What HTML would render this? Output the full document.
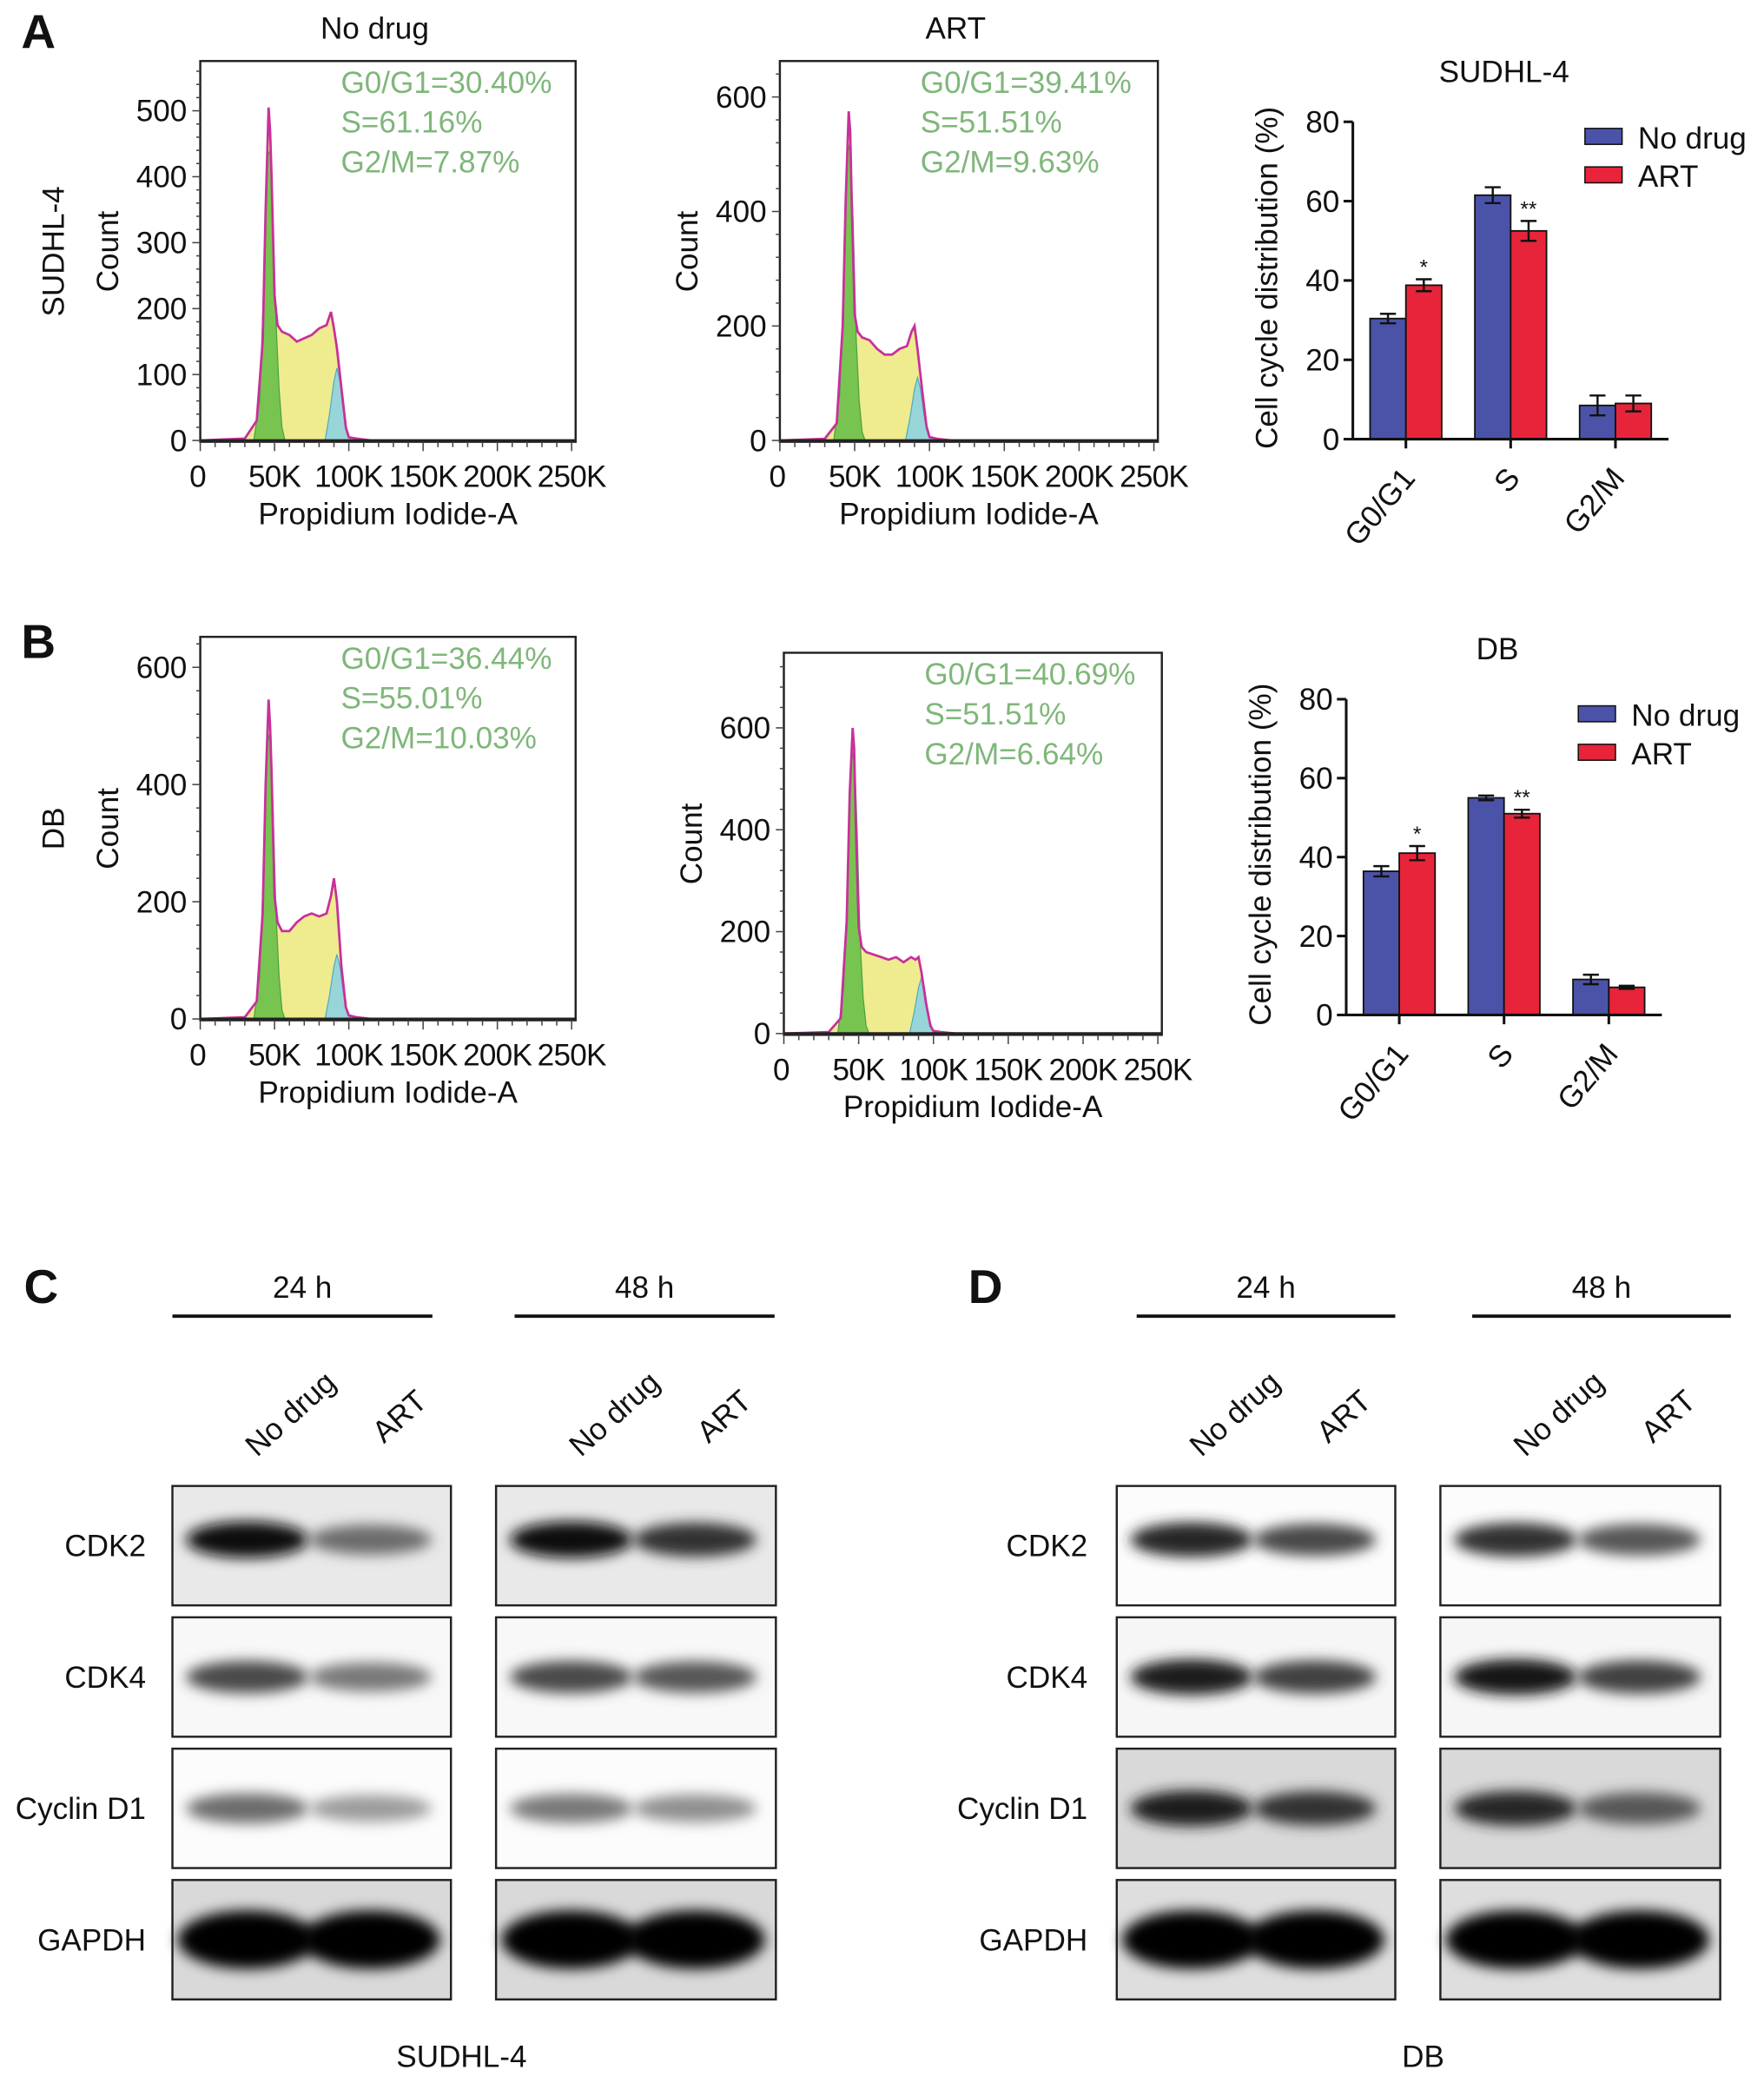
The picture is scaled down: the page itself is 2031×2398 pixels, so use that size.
<!DOCTYPE html>
<html><head><meta charset="utf-8">
<style>
html,body{margin:0;padding:0;background:#fff;}
svg{display:block;font-family:"Liberation Sans",Arial,sans-serif;}
</style></head>
<body>
<svg id="fig" width="2031" height="2398" viewBox="0 0 1330 1570" preserveAspectRatio="none" xmlns="http://www.w3.org/2000/svg">
<defs>
<filter id="blur" x="-30%" y="-80%" width="160%" height="260%"><feGaussianBlur stdDeviation="5"/></filter>
</defs>
</svg>
<script>
// ---------- data ----------
const histX_A1 = [0,30,38,42,44,46,47,48,50,52,55,60,65,70,75,80,85,88,90,92,95,98,100,105,115,250];
const histY_A1 = [0,3,30,150,350,505,470,400,220,175,165,160,150,155,160,170,175,195,170,140,80,20,5,3,0,0];
const histX_A2 = [0,30,38,42,44,46,47,48,50,52,55,60,65,70,75,80,85,88,90,92,95,98,100,105,115,250];
const histY_A2 = [0,3,30,200,420,575,540,420,220,190,180,175,160,150,150,160,165,190,200,160,90,25,6,3,0,0];
const histX_B1 = [0,30,38,42,44,46,47,48,50,52,55,60,65,70,75,80,85,88,90,92,95,98,100,105,115,250];
const histY_B1 = [0,3,30,180,400,545,500,420,210,165,150,150,165,175,180,175,180,210,240,200,90,20,6,3,0,0];
const histX_B2 = [0,30,38,42,44,46,47,48,50,52,55,60,65,70,75,80,85,88,90,92,95,98,100,105,115,250];
const histY_B2 = [0,3,30,220,470,600,560,420,210,170,160,155,150,145,150,140,150,145,150,120,60,15,5,3,0,0];
const g1X = [36,40,43,45,47,49,51,53,55,57];
const g1Y_A1 = [0,60,250,430,440,330,180,80,20,0];
const g1Y_A2 = [0,80,300,500,520,380,180,70,15,0];
const g1Y_B1 = [0,70,290,470,490,360,180,75,15,0];
const g1Y_B2 = [0,90,330,530,560,400,180,70,15,0];
const g2X = [84,87,90,92,94,96,98,100,102];
const g2Y = [0,40,90,110,90,50,20,5,0];

const barCats = ["G0/G1","S","G2/M"];
const barNoDrugA = [30.4,61.5,8.5];
const barArtA = [38.8,52.5,9.0];
const errNoDrugA = [1.2,2.0,2.5];
const errArtA = [1.5,2.5,2.0];
const sigA = ["","*","**",""];
const barNoDrugB = [36.4,55.0,9.0];
const barArtB = [41.0,51.0,7.0];
const errNoDrugB = [1.3,0.6,1.2];
const errArtB = [1.8,1.0,0.4];
const barTicks = [0,20,40,60,80];

const blotRows = ["CDK2","CDK4","Cyclin D1","GAPDH"];
const bandC24 = [[0.95,0.55],[0.7,0.5],[0.55,0.35],[1,1]];
const bandC48 = [[0.95,0.8],[0.7,0.65],[0.5,0.4],[1,1]];
const bandD24 = [[0.85,0.7],[0.9,0.75],[0.9,0.8],[1,1]];
const bandD48 = [[0.8,0.65],[0.92,0.75],[0.85,0.65],[1,1]];
const bgC = [0.2,0.06,0.03,0.35];
const bgD = [0.03,0.08,0.35,0.3];

// ---------- helpers ----------
const svg = document.getElementById('fig');
const NS = 'http://www.w3.org/2000/svg';
function el(tag, attrs, parent){
  const e = document.createElementNS(NS, tag);
  for (const k in attrs) e.setAttribute(k, attrs[k]);
  (parent||svg).appendChild(e);
  return e;
}
function txt(s, x, y, size, opts, parent){
  const t = el('text', Object.assign({x:x,y:y,'font-size':size,fill:'#111'}, opts||{}), parent);
  t.textContent = s;
  return t;
}

// ---------- histograms ----------
function histogram(name, box, yPerCount, yTicks, xs, ys, g1y, lines, title, rowLabel){
  const g = el('g', {});
  
  
  const [x0,y0,x1,y1] = box;
  const yb = y1 - 1;
  const xScale = v => x0 + v*(x1-3-x0)/250;
  const yScale = v => yb - v*yPerCount;
  let d = 'M'+xScale(xs[0])+','+yScale(0);
  xs.forEach((v,i)=>{ d += ' L'+xScale(v)+','+yScale(ys[i]); });
  d += ' L'+xScale(xs[xs.length-1])+','+yScale(0)+' Z';
  const area = el('path', {d:d, fill:'#efeb8f', stroke:'none'}, g);
  
  
  let d1 = 'M'+xScale(g1X[0])+','+yScale(0);
  g1X.forEach((v,i)=>{ d1 += ' L'+xScale(v)+','+yScale(g1y[i]); });
  d1 += ' Z';
  const g1p = el('path', {d:d1, fill:'#6cc04a', stroke:'#3a9a3a','stroke-width':0.8,opacity:0.9}, g);
  
  
  let d2 = 'M'+xScale(g2X[0])+','+yScale(0);
  g2X.forEach((v,i)=>{ d2 += ' L'+xScale(v)+','+yScale(g2Y[i]); });
  d2 += ' Z';
  const g2p = el('path', {d:d2, fill:'#8fd3e0', stroke:'#3aa7c8','stroke-width':0.8,opacity:0.9}, g);
  
  
  let dl = '';
  xs.forEach((v,i)=>{ dl += (i?' L':'M')+xScale(v)+','+yScale(ys[i]); });
  const ol = el('path', {d:dl, fill:'none', stroke:'#c8309a','stroke-width':1.8}, g);
  
  
  el('line',{x1:x0,x2:x1,y1:yb,y2:yb,stroke:'#222','stroke-width':2}, g);
  el('rect', {x:x0,y:y0,width:x1-x0,height:y1-y0,fill:'none',stroke:'#222','stroke-width':1.6}, g);
  const maxC = (yb-y0)/yPerCount;
  const minorStep = yTicks[1]/5;
  for (let v=0; v<=maxC; v+=minorStep){
    const major = Math.abs(v/yTicks[1]-Math.round(v/yTicks[1]))<1e-6;
    el('line',{x1:x0-(major?6:3),x2:x0,y1:yScale(v),y2:yScale(v),stroke:'#444','stroke-width':1}, g);
  }
  yTicks.forEach(v=>{ txt(String(v), x0-10, yScale(v)+8, 23, {'text-anchor':'end'}, g); });
  const xl = ["0","50K","100K","150K","200K","250K"];
  for (let v=0; v<=250; v+=10){
    const major = v%50===0;
    el('line',{x1:xScale(v),x2:xScale(v),y1:y1,y2:y1+(major?7:4),stroke:'#444','stroke-width':1}, g);
  }
  xl.forEach((s,i)=>{ txt(s, xScale(i*50)-(i===0?2:0), y1+34, 23, {'text-anchor':'middle','letter-spacing':'-0.5'}, g); });
  txt('Propidium Iodide-A', (x0+x1)/2, y1+62, 23, {'text-anchor':'middle'}, g);
  const cy = (y0+y1)/2;
  txt('Count', x0-62, cy, 23, {'text-anchor':'middle', transform:'rotate(-90 '+(x0-62)+' '+cy+')'}, g);
  if (rowLabel) txt(rowLabel, x0-103, cy, 23, {'text-anchor':'middle', transform:'rotate(-90 '+(x0-103)+' '+cy+')'}, g);
  if (title) txt(title, (x0+x1)/2-10, y0-17, 23, {'text-anchor':'middle'}, g);
  lines.forEach((s,i)=>{ txt(s, x0+106, y0+24+i*30, 23, {fill:'#7fb77a'}, g); });
}
histogram('histogram-sudhl4-nodrug',[151,46,434,333],0.497,[0,100,200,300,400,500],histX_A1,histY_A1,g1Y_A1,["G0/G1=30.40%","S=61.16%","G2/M=7.87%"],'No drug','SUDHL-4');
histogram('histogram-sudhl4-art',[588,46,873,333],0.4315,[0,200,400,600],histX_A2,histY_A2,g1Y_A2,["G0/G1=39.41%","S=51.51%","G2/M=9.63%"],'ART',null);
histogram('histogram-db-nodrug',[151,480,434,769],0.4417,[0,200,400,600],histX_B1,histY_B1,g1Y_B1,["G0/G1=36.44%","S=55.01%","G2/M=10.03%"],null,'DB');
histogram('histogram-db-art',[591,492,876,780],0.384,[0,200,400,600],histX_B2,histY_B2,g1Y_B2,["G0/G1=40.69%","S=51.51%","G2/M=6.64%"],null,null);

// ---------- bar charts ----------
function barChart(name, ax, y0, pxPer, xEnd, groupStart, groupStep, nd, art, end, ear, sig, title){
  const g = el('g', {});
  
  
  const yS = v => y0 - v*pxPer;
  const bw = 27;
  barCats.forEach((c,i)=>{
    const cx = groupStart + i*groupStep;
    [[nd,end,'#4b53a8',cx-bw],[art,ear,'#e8243a',cx]].forEach(([vals,errs,col,bx],j)=>{
      const r = el('rect',{x:bx,y:yS(vals[i]),width:bw,height:vals[i]*pxPer,fill:col,stroke:'#111','stroke-width':1.2}, g);
      
      
      const mx = bx+bw/2, e = errs[i];
      el('line',{x1:mx,x2:mx,y1:yS(vals[i]+e),y2:yS(vals[i]-e),stroke:'#111','stroke-width':1.6}, g);
      el('line',{x1:mx-6,x2:mx+6,y1:yS(vals[i]+e),y2:yS(vals[i]+e),stroke:'#111','stroke-width':1.6}, g);
      el('line',{x1:mx-6,x2:mx+6,y1:yS(vals[i]-e),y2:yS(vals[i]-e),stroke:'#111','stroke-width':1.6}, g);
      if (j===1 && sig[i+1]) txt(sig[i+1], mx, yS(vals[i]+e)-4, 16, {'text-anchor':'middle'}, g);
    });
    const lx = cx+8, ly = y0+30;
    txt(c, lx, ly, 23, {'text-anchor':'end', transform:'rotate(-50 '+lx+' '+ly+')'}, g);
  });
  el('line',{x1:ax,x2:ax,y1:yS(80),y2:y0,stroke:'#111','stroke-width':2}, g);
  el('line',{x1:ax,x2:xEnd,y1:y0,y2:y0,stroke:'#111','stroke-width':2}, g);
  barTicks.forEach(v=>{
    el('line',{x1:ax-7,x2:ax,y1:yS(v),y2:yS(v),stroke:'#111','stroke-width':2}, g);
    txt(String(v), ax-10, yS(v)+8, 23, {'text-anchor':'end'}, g);
  });
  barCats.forEach((c,i)=>{
    const cx = groupStart + i*groupStep;
    el('line',{x1:cx,x2:cx,y1:y0,y2:y0+7,stroke:'#111','stroke-width':2}, g);
  });
  const cy = (yS(80)+y0)/2 - 2;
  const lxx = ax-57;
  txt('Cell cycle distribution (%)', lxx, cy, 23, {'text-anchor':'middle', transform:'rotate(-90 '+lxx+' '+cy+')'}, g);
  txt(title, (ax+xEnd)/2-5, yS(80)-30, 23, {'text-anchor':'middle'}, g);
  const lg = el('g',{}, g);
  
  
  const lx = xEnd-63, ly = yS(80)+5;
  el('rect',{x:lx,y:ly,width:28,height:12,fill:'#4b53a8',stroke:'#111'}, lg);
  txt('No drug', lx+40, ly+15, 23, {}, lg);
  el('rect',{x:lx,y:ly+29,width:28,height:12,fill:'#e8243a',stroke:'#111'}, lg);
  txt('ART', lx+40, ly+44, 23, {}, lg);
}
barChart('bar-chart-sudhl4', 1020, 331, 2.99, 1258, 1060, 79, barNoDrugA, barArtA, errNoDrugA, errArtA, sigA, 'SUDHL-4');
barChart('bar-chart-db', 1015, 765, 2.975, 1253, 1055, 79, barNoDrugB, barArtB, errNoDrugB, errArtB, sigA, 'DB');

// ---------- panel letters ----------
[['A',16,36],['B',16,496],['C',18,982],['D',730,982]].forEach(([s,x,y])=>{
  const t = txt(s, x, y, 36, {'font-weight':'bold'});
  
  
});

// ---------- western blots ----------
function blotPanel(name, boxes, bands, bgs, labelX, lineInfo, cellLabel, cellX){
  const g = el('g', {});
  
  
  const rowsY = [1120,1219,1318,1417];
  const rh = 90;
  boxes.forEach((bx,bi)=>{
    const [x0,x1] = bx;
    const w = x1-x0;
    txt(bi?'48 h':'24 h', lineInfo[bi][0]+ (lineInfo[bi][1]-lineInfo[bi][0])/2, 978, 23, {'text-anchor':'middle'}, g);
    el('line',{x1:lineInfo[bi][0],x2:lineInfo[bi][1],y1:992,y2:992,stroke:'#111','stroke-width':2.5}, g);
    const l1 = x0+w*0.25, l2 = x0+w*0.73;
    txt('No drug', l1+72, 1044, 23, {'text-anchor':'end', transform:'rotate(-42 '+(l1+72)+' 1044)'}, g);
    txt('ART', l2+40, 1058, 23, {'text-anchor':'end', transform:'rotate(-42 '+(l2+40)+' 1058)'}, g);
    rowsY.forEach((ry,ri)=>{
      const bg = bgs[ri];
      const gray = Math.round(255 - bg*110);
      el('rect',{x:x0,y:ry,width:w,height:rh,fill:'rgb('+gray+','+gray+','+gray+')'}, g);
      const inten = bands[bi][ri];
      [l1,l2].forEach((lx,li)=>{
        const v = inten[li];
        const c = Math.round(235 - v*230);
        const isG = ri===3;
        const e = el('ellipse',{cx:lx+(li?-4:4),cy:ry+rh*(ri===0?0.45:0.5),rx:w*(isG?0.25:0.22),ry:isG?22:(8+v*6),fill:'rgb('+c+','+c+','+c+')',filter:'url(#blur)'}, g);
        
        
      });
      el('rect',{x:x0,y:ry,width:w,height:rh,fill:'none',stroke:'#222','stroke-width':1.6}, g);
      if (bi===0) txt(blotRows[ri], labelX, ry+rh/2+8, 23, {'text-anchor':'end'}, g);
    });
  });
  txt(cellLabel, cellX, 1558, 23, {'text-anchor':'middle'}, g);
}
blotPanel('western-blot-sudhl4', [[130,340],[374,585]], [bandC24,bandC48], bgC, 110, [[130,326],[388,584]], 'SUDHL-4', 348);
blotPanel('western-blot-db', [[842,1052],[1086,1297]], [bandD24,bandD48], bgD, 820, [[857,1052],[1110,1305]], 'DB', 1073);
</script>
</body></html>
